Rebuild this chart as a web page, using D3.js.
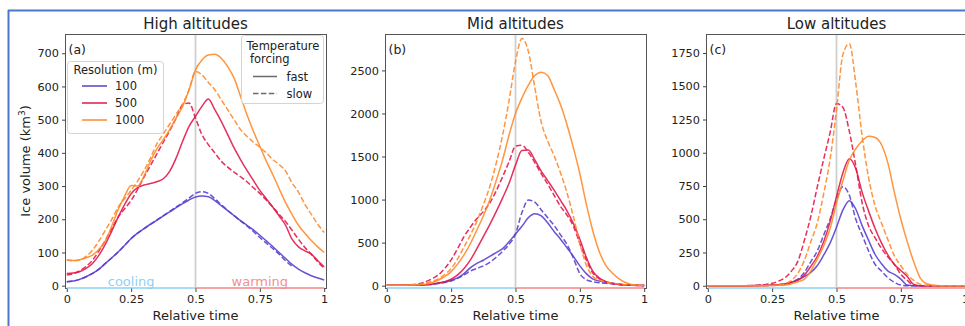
<!DOCTYPE html>
<html>
<head>
<meta charset="utf-8">
<script src="https://cdnjs.cloudflare.com/ajax/libs/d3/7.8.5/d3.min.js"></script>
<style>
body{margin:0;background:#fff;}
svg{display:block;font-family:"DejaVu Sans",sans-serif;}
</style>
</head>
<body>
<svg id="fig" width="965" height="326"></svg>
<script>
// relative time grid (x values)
var times=[0,0.025,0.05,0.075,0.1,0.125,0.15,0.175,0.2,0.225,0.25,0.275,0.3,0.325,0.35,0.375,0.4,0.425,0.45,0.475,
    0.5,0.525,0.55,0.575,0.6,0.625,0.65,0.675,0.7,0.725,0.75,0.775,0.8,0.825,0.85,0.875,0.9,0.925,0.95,0.975,1];

var panelTitles=["High altitudes","Mid altitudes","Low altitudes"];
var panelTags=["(a)","(b)","(c)"];
var resolutions=["100","500","1000"];
var forcings=["fast","slow"];
var xTicks=[0,0.25,0.5,0.75,1];
var xTickLabels=["0","0.25","0.5","0.75","1"];
var yTicksHigh=[0,100,200,300,400,500,600,700];
var yTicksMid=[0,500,1000,1500,2000,2500];
var yTicksLow=[0,250,500,750,1000,1250,1500,1750];

// ice volume (km3), high altitudes
var high100fast=[12,14,19,27,37,50,67,84,102,122,142,158,172,185,197,210,222,235,247,258,
    267,270,268,256,241,226,211,196,182,168,152,135,118,100,82,64,50,39,30,23,17];
var high100slow=[12,14,19,27,37,50,67,84,102,122,142,158,172,185,198,211,224,237,250,264,
    278,283,278,262,244,227,211,195,180,163,145,128,112,95,75,58];
var high500fast=[37,38,42,52,67,92,125,165,207,245,277,295,303,308,313,322,345,385,435,480,
    510,540,562,530,495,455,415,380,347,317,287,262,237,210,182,140,117,105,95,75,57];
var high500slow=[32,36,45,58,77,105,137,172,207,232,257,290,327,362,397,432,467,505,545,550,
    505,455,425,400,375,357,342,328,313,295,278,258,237,215,193,167,140,115,95,72,52];
var high1000fast=[77,76,78,84,92,110,135,180,230,270,302,300,330,375,412,440,470,505,540,590,
    650,680,695,697,685,660,625,570,515,465,420,375,335,292,250,215,182,158,136,117,100];
var high1000slow=[77,75,77,88,107,135,167,200,237,262,287,315,347,385,427,457,487,517,547,590,
    645,635,612,590,560,530,500,470,450,432,417,400,380,365,345,310,282,245,215,185,160];

// ice volume (km3), mid altitudes
var mid100fast=[5,5,5,5,6,8,12,18,28,42,62,90,140,210,260,295,340,385,430,510,
    600,690,790,835,810,730,630,540,440,340,230,140,80,55,40,30,20,12,8,5,3];
var mid100slow=[5,5,5,5,6,8,11,15,25,38,55,85,125,170,200,230,270,330,400,480,
    600,850,995,970,880,790,700,590,480,320,140,70,45,35,28,22,16,10,6,4,3];
var mid500fast=[5,5,5,5,6,8,12,18,30,45,75,125,200,300,430,570,710,860,1020,1190,
    1400,1570,1575,1460,1330,1220,1110,990,870,720,540,330,170,90,50,25,14,8,5,3,2];
var mid500slow=[5,5,6,8,12,22,45,80,124,200,300,430,570,680,780,860,960,1100,1265,1440,
    1620,1630,1550,1430,1300,1180,1050,920,820,690,490,300,150,80,45,25,14,8,5,3,2];
var mid1000fast=[5,5,5,6,8,12,18,35,66,105,163,250,357,490,647,810,996,1220,1461,1750,
    2000,2180,2330,2440,2480,2440,2280,2100,1870,1600,1300,950,640,400,240,150,85,40,15,8,5];
var mid1000slow=[5,5,5,6,8,14,28,50,80,130,200,310,450,590,750,940,1150,1420,1750,2150,
    2600,2870,2720,2300,1900,1680,1510,1310,1080,800,490,240,110,65,45,30,20,12,8,5,4];

// ice volume (km3), low altitudes
var low100fast=[0,0,0,0,0,0,0,0,1,2,3,6,10,25,45,68,100,150,230,320,
    440,570,640,575,450,340,235,165,110,85,50,5,0,0,0,0,0,0,0,0,0];
var low100slow=[0,0,0,0,0,0,0,0,1,2,4,8,15,30,50,100,180,260,380,500,
    650,745,680,500,380,260,160,110,60,25,5,0,0,0,0,0,0,0,0,0,0];
var low500fast=[0,0,0,0,0,0,0,1,2,3,5,8,15,25,40,80,145,220,330,480,
    670,850,955,880,700,560,430,320,230,160,115,70,10,0,0,0,0,0,0,0,0];
var low500slow=[0,0,0,0,0,0,1,2,5,10,18,35,60,110,185,340,520,740,950,1150,
    1370,1340,1160,900,620,450,360,280,215,160,85,40,5,0,0,0,0,0,0,0,0];
var low1000fast=[0,0,0,0,0,0,0,0,0,1,2,3,5,15,30,50,110,200,300,430,
    620,790,945,1030,1090,1125,1115,1060,920,700,500,330,180,60,15,5,0,0,0,0,0];
var low1000slow=[0,0,0,0,0,0,0,0,0,1,2,5,15,40,95,190,330,470,690,950,
    1320,1740,1820,1520,1120,810,600,470,345,225,150,85,40,12,3,0,0,0,0,0,0];

var colors={"100":"#5a3fcf","500":"#e2184b","1000":"#ff8a2a"};

var panels=[
    {title:panelTitles[0],tag:panelTags[0],left:65,yDom:[-7,758],ticks:yTicksHigh,
     series:[["100","fast",high100fast],["100","slow",high100slow],["500","fast",high500fast],
             ["500","slow",high500slow],["1000","fast",high1000fast],["1000","slow",high1000slow]]},
    {title:panelTitles[1],tag:panelTags[1],left:385,yDom:[-27,2923],ticks:yTicksMid,
     series:[["100","fast",mid100fast],["100","slow",mid100slow],["500","fast",mid500fast],
             ["500","slow",mid500slow],["1000","fast",mid1000fast],["1000","slow",mid1000slow]]},
    {title:panelTitles[2],tag:panelTags[2],left:706,yDom:[-17,1893],ticks:yTicksLow,
     series:[["100","fast",low100fast],["100","slow",low100slow],["500","fast",low500fast],
             ["500","slow",low500slow],["1000","fast",low1000fast],["1000","slow",low1000slow]]}
];

var svg=d3.select("#fig");
var plotTop=34, plotBottom=288, plotWidth=261;

// blue frame of the screenshot
svg.append("line").attr("x1",8).attr("x2",965).attr("y1",10.5).attr("y2",10.5)
    .attr("stroke","#4a78c8").attr("stroke-width",2);
svg.append("line").attr("x1",8.5).attr("x2",8.5).attr("y1",10).attr("y2",326)
    .attr("stroke","#4a78c8").attr("stroke-width",2);

function drawPanel(p,idx){
    var x=d3.scaleLinear().domain([-0.007,1.007]).range([p.left,p.left+plotWidth]);
    var y=d3.scaleLinear().domain(p.yDom).range([plotBottom,plotTop]);
    var g=svg.append("g");

    // grey line at mid time
    g.append("line").attr("x1",x(0.5)).attr("x2",x(0.5)).attr("y1",plotTop).attr("y2",plotBottom)
        .attr("stroke","#cfcfcf").attr("stroke-width",1.8);

    var line=d3.line()
        .x(function(d){return x(d[0]);})
        .y(function(d){return y(d[1]);})
        .curve(d3.curveMonotoneX);

    p.series.forEach(function(s){
        var pts=s[2].map(function(v,i){return [times[i],v];});
        g.append("path").datum(pts)
            .attr("d",line)
            .attr("fill","none")
            .attr("stroke",colors[s[0]])
            .attr("stroke-width",1.5)
            .attr("stroke-opacity",0.9)
            .attr("stroke-dasharray",s[1]=="slow"?"5.5,2.4":null);
    });

    // frame
    g.append("rect").attr("x",p.left+0.5).attr("y",plotTop+0.5).attr("width",plotWidth).attr("height",plotBottom-plotTop)
        .attr("fill","none").attr("stroke","#555").attr("stroke-width",1);

    // cooling / warming bars
    g.append("line").attr("x1",x(0)).attr("x2",x(0.5)).attr("y1",plotBottom).attr("y2",plotBottom)
        .attr("stroke","#a9dcf7").attr("stroke-width",2);
    g.append("line").attr("x1",x(0.5)).attr("x2",x(1)).attr("y1",plotBottom).attr("y2",plotBottom)
        .attr("stroke","#f5a3a3").attr("stroke-width",2);

    var xAxis=d3.axisBottom(x).tickValues(xTicks)
        .tickFormat(function(d,i){return xTickLabels[i];})
        .tickSize(3.5).tickPadding(2.5).tickSizeOuter(0);
    var ax=g.append("g").attr("transform","translate(0,"+(plotBottom+0.5)+")").call(xAxis);
    var yAxis=d3.axisLeft(y).tickValues(p.ticks).tickFormat(d3.format("d"))
        .tickSize(3.5).tickPadding(3).tickSizeOuter(0);
    var ay=g.append("g").attr("transform","translate("+(p.left+0.5)+",0)").call(yAxis);
    [ax,ay].forEach(function(a){
        a.select(".domain").remove();
        a.selectAll("line").attr("stroke","#444");
        a.selectAll("text").attr("fill","#222").style("font-size","11.3px").style("font-family","DejaVu Sans");
    });

    g.append("text").attr("x",p.left+plotWidth/2).attr("y",28.5).attr("text-anchor","middle")
        .style("font-size","15px").attr("fill","#222").text(p.title);
    g.append("text").attr("x",p.left+plotWidth/2).attr("y",319.5).attr("text-anchor","middle")
        .style("font-size","13px").attr("fill","#222").text("Relative time");
    g.append("text").attr("x",p.left+3.5).attr("y",53.5)
        .style("font-size","12.5px").attr("fill","#222").text(p.tag);

    if(idx==0){
        g.append("text").attr("x",x(0.25)).attr("y",285.5).attr("text-anchor","middle")
            .style("font-size","13px").attr("fill","#8fd0f7").text("cooling");
        g.append("text").attr("x",x(0.75)).attr("y",285.5).attr("text-anchor","middle")
            .style("font-size","13px").attr("fill","#f29090").text("warming");

        // y label
        var yl=g.append("text").attr("transform","translate(30,161) rotate(-90)")
            .attr("text-anchor","middle").style("font-size","13px").attr("fill","#222");
        yl.append("tspan").text("Ice volume (km");
        yl.append("tspan").attr("dy",-5).style("font-size","9px").text("3");
        yl.append("tspan").attr("dy",5).text(")");

        // resolution legend
        var lg=g.append("g");
        lg.append("rect").attr("x",67.5).attr("y",61.5).attr("width",96).attr("height",72).attr("rx",3)
            .attr("fill","#fff").attr("fill-opacity",0.85).attr("stroke","#d4d4d4");
        lg.append("text").attr("x",115.5).attr("y",74).attr("text-anchor","middle")
            .style("font-size","11.5px").attr("fill","#222").text("Resolution (m)");
        resolutions.forEach(function(r,i){
            var yy=86+i*17;
            lg.append("line").attr("x1",82).attr("x2",107).attr("y1",yy).attr("y2",yy)
                .attr("stroke",colors[r]).attr("stroke-width",1.5);
            lg.append("text").attr("x",115).attr("y",yy+4.2)
                .style("font-size","11.5px").attr("fill","#222").text(r);
        });

        // forcing legend
        var lf=g.append("g");
        lf.append("rect").attr("x",241.5).attr("y",35.5).attr("width",82).attr("height",68).attr("rx",3)
            .attr("fill","#fff").attr("fill-opacity",0.85).attr("stroke","#d4d4d4");
        lf.append("text").attr("x",246.5).attr("y",50)
            .style("font-size","11.5px").attr("fill","#222").text("Temperature");
        lf.append("text").attr("x",250).attr("y",63)
            .style("font-size","11.5px").attr("fill","#222").text("forcing");
        forcings.forEach(function(f,i){
            var yy=76.5+i*17;
            lf.append("line").attr("x1",253).attr("x2",277).attr("y1",yy).attr("y2",yy)
                .attr("stroke","#6a6a6a").attr("stroke-width",1.5)
                .attr("stroke-dasharray",f=="slow"?"5.5,2.4":null);
            lf.append("text").attr("x",286.5).attr("y",yy+4.2)
                .style("font-size","11.5px").attr("fill","#222").text(f);
        });
    }
}

panels.forEach(function(p,i){ drawPanel(p,i); });
</script>
</body>
</html>
